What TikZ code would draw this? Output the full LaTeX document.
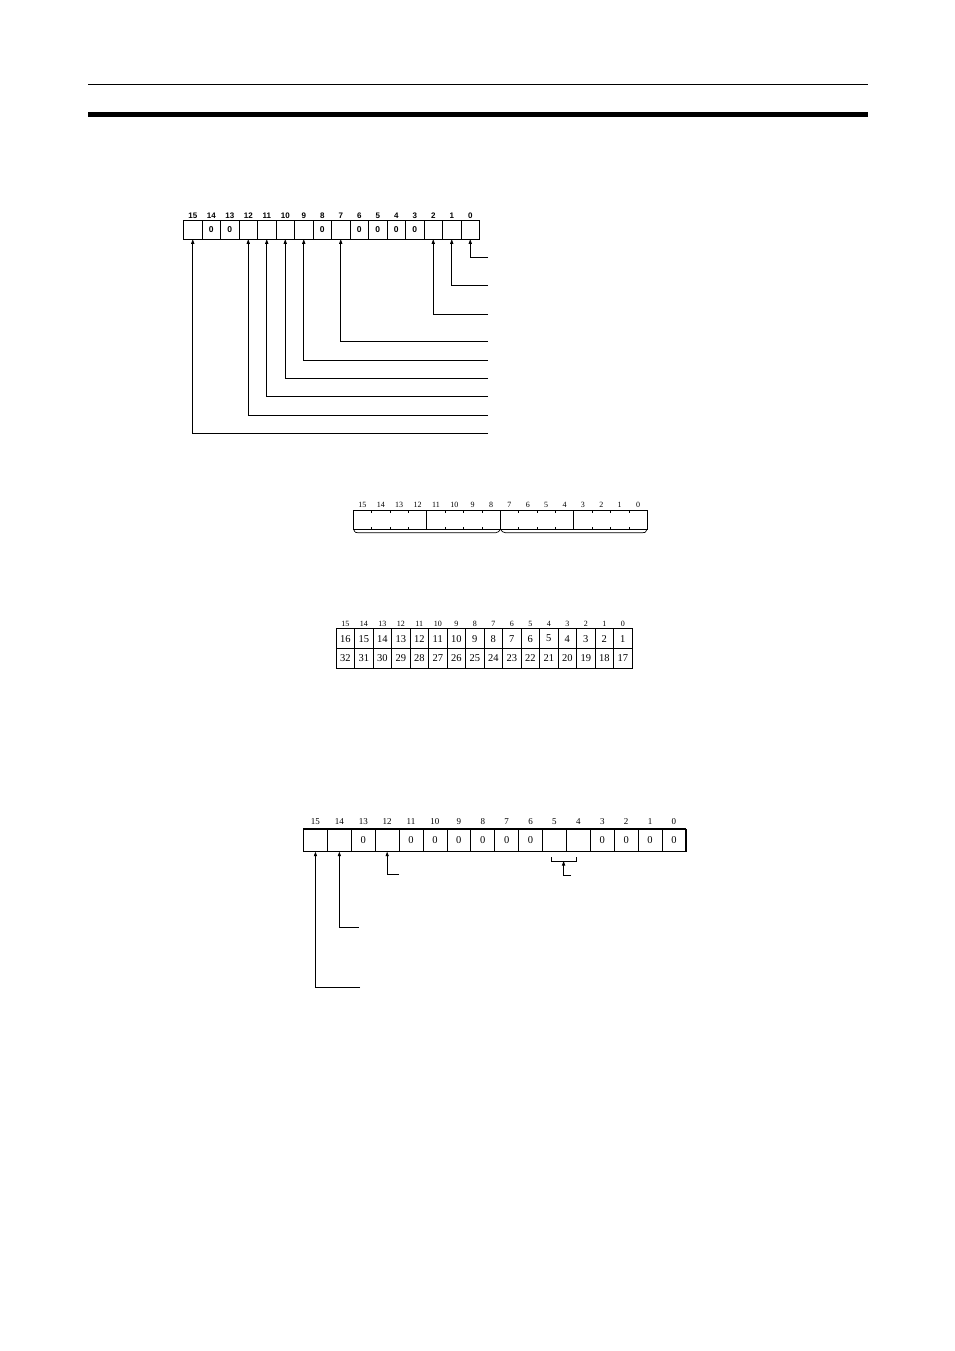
\documentclass[tikz,border=0pt]{standalone}
\usepackage{fontspec}
\setmainfont{Liberation Serif}
\newfontfamily\hel{Liberation Sans}
\usetikzlibrary{arrows.meta}
\begin{document}
\begin{tikzpicture}[x=1pt,y=-1pt,
  arr/.style={-{Triangle[length=4.5pt,width=3.2pt]}, line width=0.8pt},
  cellA/.style={draw, line width=0.9pt, minimum width=18.5pt, minimum height=18.6pt, inner sep=0pt, outer sep=0pt, font=\hel\bfseries\fontsize{8.5}{9}\selectfont},
  labA/.style={inner sep=0pt, font=\hel\bfseries\fontsize{8}{9}\selectfont},
  labB/.style={inner sep=0pt, font=\fontsize{8}{9}\selectfont},
  cellC/.style={draw, line width=0.8pt, minimum width=18.5pt, minimum height=19.7pt, inner sep=0pt, outer sep=0pt, font=\fontsize{10.5}{11}\selectfont},
  labC/.style={inner sep=0pt, font=\fontsize{8}{9}\selectfont},
  cellD/.style={draw, line width=0.8pt, minimum width=23.9pt, minimum height=22.7pt, inner sep=0pt, outer sep=0pt, font=\fontsize{10.5}{11}\selectfont},
  labD/.style={inner sep=0pt, font=\fontsize{9}{10}\selectfont},
  thin/.style={line width=0.7pt}
]
\useasboundingbox (0,0) rectangle (954,1351);
\fill[white] (0,0) rectangle (954,1351);

% header rules
\draw[line width=0.8pt] (88,84) -- (868,84);
\fill (88,112) rectangle (868,117);

% ---------- diagram 1 ----------
\foreach \b/\v in {15/{},14/0,13/0,12/{},11/{},10/{},9/{},8/0,7/{},6/0,5/0,4/0,3/0,2/{},1/{},0/{}} {
  \pgfmathsetmacro\cx{183.5+18.5*(15-\b)+9.25}
  \node[cellA] (a\b) at (\cx,230) {\v};
  \node[labA] (la\b) at (\cx,215.5) {\b};
}
\draw[line width=1pt] (a15.north west) rectangle (a0.south east);
\foreach \b/\y in {0/257.3,1/285.7,2/314,7/341.7,9/360,10/378.3,11/396.7,12/415,15/433.3} {
  \coordinate (ea\b) at (488,\y);
  \draw[arr] (ea\b) -| (a\b.south);
}

% ---------- diagram 2 ----------
\node[draw, line width=0.8pt, minimum width=294pt, minimum height=19.3pt, inner sep=0pt, outer sep=0pt] (reg2) at (500.3,519.65) {};
\foreach \k in {4,8,12} {
  \draw[line width=0.8pt] ({353.3+18.375*\k},510) -- ({353.3+18.375*\k},529.3);
}
\foreach \k in {1,2,3,5,6,7,9,10,11,13,14,15} {
  \draw[line width=0.5pt] ({353.3+18.375*\k},510) -- ++(0,2.5);
  \draw[line width=0.5pt] ({353.3+18.375*\k},529.3) -- ++(0,-2.5);
}
\foreach \b in {0,...,15} {
  \node[labB] (lb\b) at ({353.3+18.375*(15-\b)+9.19},504.5) {\b};
}
\draw[thin] (353.8,529.6) .. controls (355,532.8) and (356,532.8) .. (358.5,532.8) -- (495.5,532.8) .. controls (498,532.8) and (499.5,531) .. (500.5,529.3);
\draw[thin] (500.5,529.3) .. controls (501.5,531) and (503,532.8) .. (505.5,532.8) -- (642,532.8) .. controls (644.5,532.8) and (645.5,532.8) .. (646.8,529.6);

% ---------- diagram 3 ----------
\foreach \b in {0,...,15} {
  \pgfmathsetmacro\cx{336+18.5*(15-\b)+9.25}
  \pgfmathtruncatemacro\va{\b+1}
  \pgfmathtruncatemacro\vb{\b+17}
  \node[cellC] (t\b) at (\cx,638.6) {\va};
  \node[cellC] (u\b) at (\cx,658.3) {\vb};
  \node[labC] (lt\b) at (\cx,623.8) {\b};
}
\draw[line width=1pt] (t15.north west) rectangle (u0.south east);

% ---------- diagram 4 ----------
\foreach \b/\v in {15/{},14/{},13/0,12/{},11/0,10/0,9/0,8/0,7/0,6/0,5/{},4/{},3/0,2/0,1/0,0/0} {
  \pgfmathsetmacro\cx{303.5+23.9*(15-\b)+11.95}
  \node[cellD] (c\b) at (\cx,840.35) {\v};
  \node[labD] (lc\b) at (\cx,821.5) {\b};
}
\draw[line width=1.1pt] (c15.north west) rectangle (c0.south east);
\draw[line width=1.1pt] (c12.north west) -- (c12.south west);
\draw[line width=1.1pt] (c4.north east) -- (c4.south east);

% bracket under bits 5-4
\coordinate (bl) at (551.7,857);
\coordinate (br) at (576,857);
\coordinate (brk) at (563.6,861);
\draw[line width=0.8pt] (bl) -- (551.7,861) -- (576,861) -- (br);

\coordinate (e15) at (360,987.5);
\coordinate (e14) at (358.5,927.3);
\coordinate (e12) at (399,874.5);
\coordinate (eb) at (571,875);
\draw[arr] (e15) -| (c15.south);
\draw[arr] (e14) -| (c14.south);
\draw[arr] (e12) -| (c12.south);
\draw[arr] (eb) -| (brk);
\end{tikzpicture}
\end{document}
